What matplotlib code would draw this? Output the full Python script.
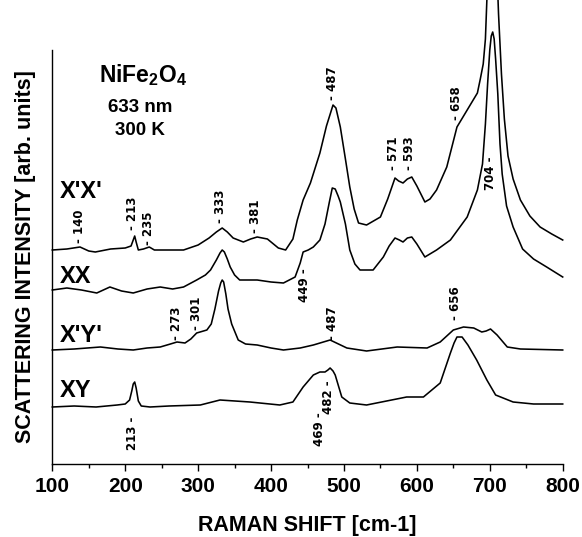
import matplotlib
matplotlib.use("Agg")
import matplotlib.pyplot as plt
from matplotlib.ticker import MultipleLocator

plt.rcParams['font.family'] = ['Liberation Sans', 'DejaVu Sans']
plt.rcParams['font.weight'] = 'bold'
plt.rcParams['mathtext.fontset'] = 'custom'
plt.rcParams['mathtext.bf'] = 'Liberation Sans:bold'
plt.rcParams['mathtext.rm'] = 'Liberation Sans:bold'

# ---- data (Raman shift in cm-1, intensity in arb. units incl. vertical offset) ----
xpxp_x = [100, 120, 138, 150, 159, 180, 200, 208, 211, 213, 215, 218, 225, 233, 240, 260, 280,
          300, 315, 325, 333, 340, 348, 362, 372, 381, 395, 410, 420, 430, 436, 444, 454, 467,
          476, 485, 489, 495, 502, 508, 514, 520, 531, 550, 560, 570, 575, 581, 587, 593, 600,
          611, 618, 627, 641, 655, 669, 683, 687, 691, 694, 696, 698, 700, 702, 704, 706, 708,
          710, 712, 716, 720, 725, 732, 742, 755, 769, 785, 800]
xpxp_y = [214, 215, 217, 213, 212, 215, 216, 218, 224, 228, 222, 214, 215, 217, 214, 214, 214,
          219, 226, 232, 236, 232, 226, 222, 225, 227, 225, 216, 214, 225, 244, 264, 281, 311,
          338, 359, 356, 337, 305, 277, 255, 241, 239, 247, 265, 286, 283, 281, 285, 287, 278,
          262, 265, 274, 297, 337, 354, 371, 385, 400, 425, 464, 520, 575, 610, 620, 600, 540,
          490, 450, 390, 345, 308, 285, 264, 248, 237, 230, 224]

xx_x = [100, 120, 140, 161, 179, 195, 211, 230, 248, 265, 280, 298, 310, 317, 325, 330, 333,
        336, 340, 344, 350, 357, 381, 400, 417, 433, 440, 444, 451, 458, 467, 474, 480, 484,
        488, 492, 495, 502, 508, 515, 522, 540, 554, 562, 570, 576, 581, 587, 593, 600, 611,
        627, 646, 669, 683, 690, 694, 697, 700, 702, 704, 706, 708, 711, 714, 717, 723, 732,
        745, 760, 778, 800]
xx_y = [174, 176, 174, 171, 177, 173, 171, 175, 177, 175, 177, 184, 189, 194, 204, 211, 214,
        212, 205, 197, 189, 184, 184, 182, 181, 187, 201, 212, 214, 217, 224, 240, 262, 276,
        275, 268, 262, 240, 214, 200, 194, 194, 207, 218, 226, 224, 222, 226, 227, 220, 207,
        214, 224, 247, 274, 300, 340, 380, 414, 428, 432, 425, 405, 370, 320, 290, 258, 237,
        215, 205, 197, 187]

xpyp_x = [100, 130, 166, 190, 211, 230, 248, 262, 271, 282, 290, 298, 312, 318, 323, 328, 331,
          333, 335, 338, 341, 346, 355, 365, 381, 400, 417, 440, 458, 481, 504, 531, 573, 614,
          632, 650, 664, 678, 689, 695, 701, 710, 724, 742, 800]
xpyp_y = [114, 115, 117, 115, 114, 116, 117, 120, 122, 121, 125, 131, 134, 140, 155, 173, 181,
          184, 182, 170, 155, 140, 124, 120, 119, 116, 114, 116, 119, 124, 116, 113, 117, 116,
          122, 134, 137, 136, 132, 133, 135, 129, 117, 115, 114]

xy_x = [100, 130, 160, 189, 200, 206, 209, 211, 213, 215, 218, 222, 234, 260, 303, 330, 371,
        412, 430, 444, 458, 467, 474, 478, 481, 485, 488, 497, 508, 531, 586, 609, 632, 646,
        651, 655, 662, 670, 682, 696, 708, 732, 760, 800]
xy_y = [57, 58, 57, 59, 60, 64, 73, 80, 82, 76, 63, 58, 57, 58, 59, 64, 62,
        59, 62, 77, 89, 92, 92, 94, 96, 93, 89, 67, 61, 59, 67, 67, 81, 111,
        121, 127, 127, 119, 104, 84, 69, 62, 60, 60]

# peak annotations: (position, text, y anchor, vertical alignment)
ann_pos = [140, 213, 235, 333, 381, 487, 571, 593, 658, 704,
           449, 273, 301, 487, 656, 213, 469, 482]
ann_text = ['- 140', '- 213', '- 235', '- 333', '- 381', '- 487', '- 571', '- 593', '- 658', '704 -',
            '449 -', '- 273', '- 301', '- 487', '- 656', '213 -', '469 -', '482 -']
ann_y = [221, 234, 219, 241, 231, 364, 294, 294, 344, 307,
         196, 124, 134, 124, 144, 47, 52, 84]
ann_va = ['bottom'] * 9 + ['top', 'top'] + ['bottom'] * 4 + ['top', 'top', 'top']

pol_labels = ["X'X'", "XX", "X'Y'", "XY"]
pol_y = [266, 181, 122, 67]

xticks = [100, 200, 300, 400, 500, 600, 700, 800]

# ---- figure ----
W, H = 582, 537
fig = plt.figure(figsize=(W / 100, H / 100), dpi=100)
ax_l, ax_r, ax_t, ax_b = 52.3, 562.7, 50, 464
ax = fig.add_axes([ax_l / W, (H - ax_b) / H, (ax_r - ax_l) / W, (ax_b - ax_t) / H])
ax.set_xlim(100, 800)
ax.set_ylim(0, ax_b - ax_t)

for xs, ys in [(xpxp_x, xpxp_y), (xx_x, xx_y), (xpyp_x, xpyp_y), (xy_x, xy_y)]:
    ax.plot(xs, ys, color='black', lw=1.15, clip_on=False, solid_joinstyle='round')

for p, t, yv, va in zip(ann_pos, ann_text, ann_y, ann_va):
    xp = p - 3
    ax.text(xp, yv, t, rotation=90, ha='center', va=va, fontsize=8.5,
            fontweight='bold', family=['DejaVu Sans'])

for lab, yv in zip(pol_labels, pol_y):
    ax.text(110.5, yv, lab, ha='left', va='baseline', fontsize=17, fontweight='bold')

ax.text(224, 382, r'$\mathbf{NiFe_2O_4}$', ha='center', va='baseline', fontsize=16.5)
ax.text(221, 352, '633 nm', ha='center', va='baseline', fontsize=13.5, fontweight='bold')
ax.text(220, 329, '300 K', ha='center', va='baseline', fontsize=13.5, fontweight='bold')

for s in ['top', 'right']:
    ax.spines[s].set_visible(False)
for s in ['left', 'bottom']:
    ax.spines[s].set_linewidth(1.0)

ax.set_xticks(xticks)
ax.set_xticklabels([str(v) for v in xticks])
ax.xaxis.set_minor_locator(MultipleLocator(50))
ax.tick_params(axis='x', which='major', direction='out', length=5, width=1.0, labelsize=15, pad=4)
ax.tick_params(axis='x', which='minor', direction='out', length=3, width=1.0)
ax.set_yticks([])
for lbl in ax.get_xticklabels():
    lbl.set_fontweight('bold')

ax.set_xlabel('RAMAN SHIFT [cm-1]', fontsize=15.5, fontweight='bold', labelpad=14)
ax.set_ylabel('SCATTERING INTENSITY [arb. units]', fontsize=15.5, fontweight='bold', labelpad=12)

fig.savefig('out.png', dpi=100)
